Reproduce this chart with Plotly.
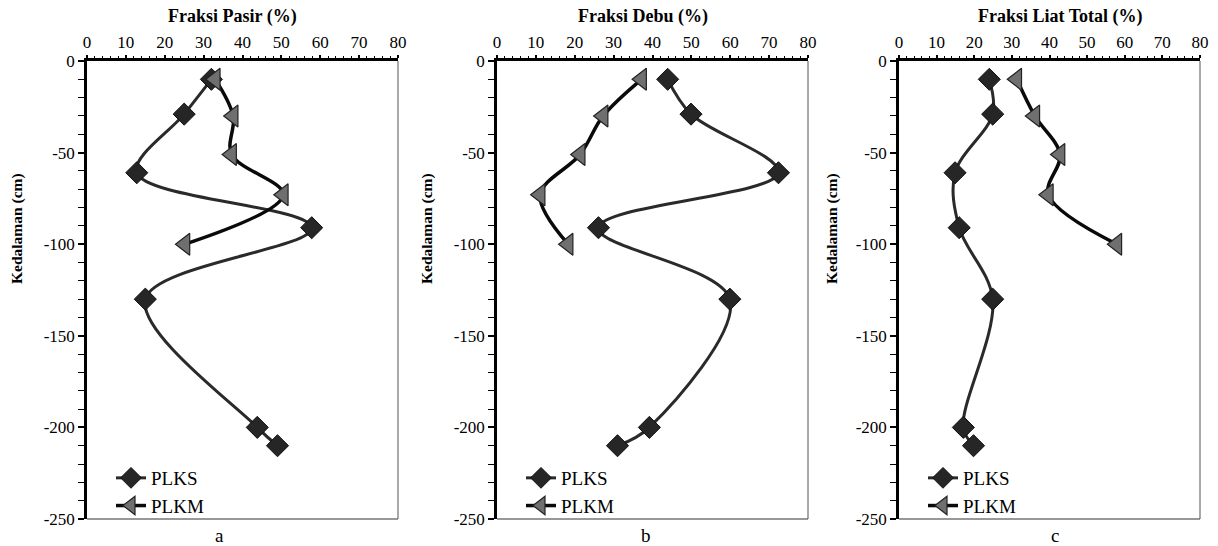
import plotly.graph_objects as go

# ---- data ----
depth_plks = [-10, -29, -61, -91, -130, -200, -210]
depth_plkm = [-10, -30, -51, -73, -100]

pasir_plks = [32, 25, 12.8, 57.8, 15, 43.8, 49]
pasir_plkm = [33, 37.6, 37.2, 50.5, 25.2]

debu_plks = [43.9, 49.9, 72.4, 26.1, 59.9, 39.2, 31]
debu_plkm = [37.2, 27.3, 21.4, 11.1, 18.3]

liat_plks = [24, 24.9, 14.9, 16, 24.9, 17.1, 19.8]
liat_plkm = [31.3, 36.1, 42.8, 39.7, 57.9]

titles = ["Fraksi Pasir (%)", "Fraksi Debu (%)", "Fraksi Liat Total (%)"]
panel_labels = ["a", "b", "c"]
x_ticks = [0, 10, 20, 30, 40, 50, 60, 70, 80]
y_ticks = [0, -50, -100, -150, -200, -250]
y_tick_labels = ["0", "-50", "-100", "-150", "-200", "-250"]

W, H = 1218, 546
FONT = "Liberation Serif, Times New Roman, serif"

x_px = [(87, 398), (497, 808), (899, 1200)]
y_top, y_bot = 61, 519
title_cx = [232, 643, 1060]
ytitle_cx = [17, 427, 832]
label_cx = [219, 646, 1055]

series = [(pasir_plks, pasir_plkm), (debu_plks, debu_plkm), (liat_plks, liat_plkm)]

fig = go.Figure()

for i, (sx, mx) in enumerate(series):
    sfx = "" if i == 0 else str(i + 1)
    leg = "legend" if i == 0 else f"legend{i + 1}"
    fig.add_trace(go.Scatter(
        x=sx, y=depth_plks, name="PLKS", mode="lines+markers",
        line=dict(color="#2a2a2a", width=3, shape="spline", smoothing=1.0),
        marker=dict(symbol="diamond", size=17, color="#262626",
                    line=dict(color="#111111", width=1)),
        xaxis="x" + sfx, yaxis="y" + sfx, legend=leg))
    fig.add_trace(go.Scatter(
        x=mx, y=depth_plkm, name="PLKM", mode="lines+markers",
        line=dict(color="#0a0a0a", width=3.5, shape="spline", smoothing=1.0),
        marker=dict(symbol="triangle-left", size=19, color="#6f6f6f",
                    line=dict(color="#222222", width=1.2)),
        xaxis="x" + sfx, yaxis="y" + sfx, legend=leg))

layout = dict(
    width=W, height=H,
    margin=dict(l=0, r=0, t=0, b=0, autoexpand=False),
    paper_bgcolor="white", plot_bgcolor="white",
    font=dict(family=FONT, size=15, color="black"),
    showlegend=True,
)

ydom = [1 - y_bot / H, 1 - y_top / H]
annotations = []
shapes = []
for i in range(3):
    sfx = "" if i == 0 else str(i + 1)
    x0, x1 = x_px[i]
    layout["xaxis" + sfx] = dict(
        domain=[x0 / W, x1 / W], range=[0, 80], side="top", automargin=False,
        anchor="y" + sfx, tickvals=x_ticks, ticks="outside", ticklen=3,
        tickwidth=1.5, tickcolor="black",
        minor=dict(dtick=2, ticks="outside", ticklen=2, tickcolor="black", tickwidth=1.2),
        showline=True, linecolor="black", linewidth=2.5, showgrid=False,
        zeroline=False, tickfont=dict(family=FONT, size=17), fixedrange=True)
    layout["yaxis" + sfx] = dict(
        domain=ydom, range=[-250, 0], anchor="x" + sfx, automargin=False,
        tickvals=y_ticks, ticktext=y_tick_labels, ticks="outside", ticklen=6, tickwidth=1.5,
        tickcolor="black",
        minor=dict(dtick=10, ticks="outside", ticklen=6, tickcolor="black", tickwidth=1.2),
        showline=True, linecolor="black", linewidth=2.5, showgrid=False,
        zeroline=False, tickfont=dict(family=FONT, size=17), fixedrange=True)
    shapes.append(dict(type="line", xref="paper", yref="paper",
                       x0=x1 / W, x1=x1 / W, y0=ydom[0], y1=ydom[1],
                       line=dict(color="#555555", width=1)))
    shapes.append(dict(type="line", xref="paper", yref="paper",
                       x0=x0 / W, x1=x1 / W, y0=ydom[0], y1=ydom[0],
                       line=dict(color="#333333", width=1.2)))
    annotations.append(dict(text="<b>" + titles[i] + "</b>", x=title_cx[i] / W, y=1 - 16 / H,
                            xref="paper", yref="paper", showarrow=False,
                            xanchor="center", yanchor="middle",
                            font=dict(family=FONT, size=18)))
    annotations.append(dict(text="<b>Kedalaman (cm)</b>", x=ytitle_cx[i] / W, y=1 - 229 / H,
                            xref="paper", yref="paper", showarrow=False, textangle=-90,
                            xanchor="center", yanchor="middle",
                            font=dict(family=FONT, size=15.5)))
    annotations.append(dict(text=panel_labels[i], x=label_cx[i] / W, y=1 - 535 / H,
                            xref="paper", yref="paper", showarrow=False,
                            xanchor="center", yanchor="middle",
                            font=dict(family=FONT, size=19)))
    leg = "legend" if i == 0 else f"legend{i + 1}"
    layout[leg] = dict(x=(x0 + 24) / W, y=1 - 459 / H, xanchor="left", yanchor="top",
                       bgcolor="rgba(0,0,0,0)", font=dict(family=FONT, size=19),
                       tracegroupgap=0, itemwidth=30)

layout["annotations"] = annotations
layout["shapes"] = shapes
fig.update_layout(**layout)

fig.write_html("out.html")
